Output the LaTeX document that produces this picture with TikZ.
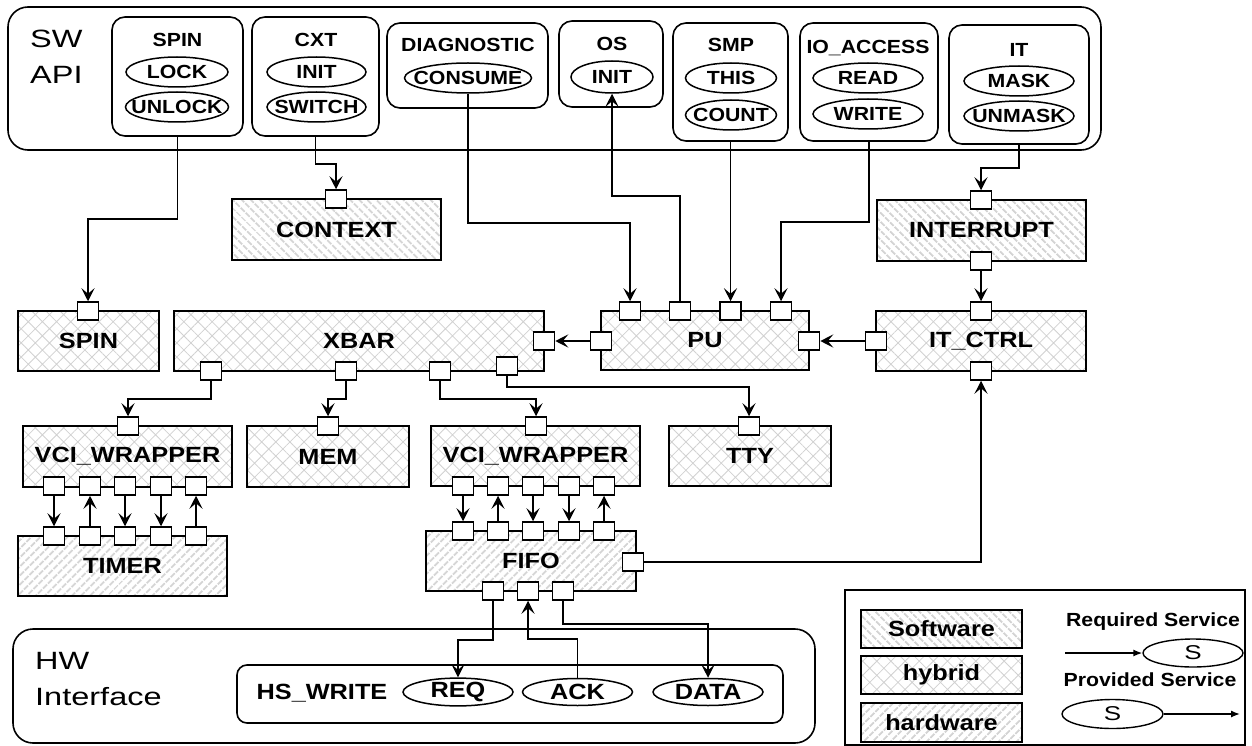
\documentclass[tikz,border=0pt]{standalone}
\usepackage{fontspec}
\setmainfont{Liberation Sans}
\newfontfamily\wfontfam[FakeStretch=1.15]{Liberation Sans}
\newfontfamily\sfontfam[FakeStretch=1.12]{Liberation Sans}
\newfontfamily\rfontfam[FakeStretch=1.3]{Liberation Sans}
\newcommand{\blkfont}{\wfontfam\bfseries\fontsize{22pt}{26pt}\selectfont}
\newcommand{\smlfont}{\sfontfam\bfseries\fontsize{19pt}{22pt}\selectfont}
\newcommand{\regfont}{\rfontfam\fontsize{25pt}{36pt}\selectfont}
\newcommand{\sregfont}{\rfontfam\fontsize{20pt}{24pt}\selectfont}
\usetikzlibrary{shapes.geometric,patterns.meta,arrows.meta}
\tikzset{
  blockbase/.style={draw, line width=1.7pt, inner sep=0pt, font=\blkfont},
  swblk/.style={blockbase, pattern={Lines[angle=-45,distance=6.5pt,line width=2.2pt]}, pattern color=black!17},
  hwblk/.style={blockbase, pattern={Lines[angle=45,distance=6.5pt,line width=2.2pt]}, pattern color=black!17},
  hyblk/.style={blockbase, pattern={Hatch[angle=45,distance=10pt,line width=0.8pt]}, pattern color=black!18},
  port/.style={draw, fill=white, line width=1.5pt, minimum width=21pt, minimum height=18pt, inner sep=0pt},
  apibox/.style={draw, rounded corners=13pt, line width=1.6pt, inner sep=0pt},
  svc/.style={ellipse, draw, line width=1.5pt, inner sep=0pt, minimum height=30pt, font=\smlfont},
  hsvc/.style={ellipse, draw, line width=1.5pt, inner sep=0pt, minimum height=27pt, minimum width=110pt, font=\blkfont},
  ttl/.style={inner sep=0pt, font=\smlfont},
  conn/.style={line width=1.5pt, -{Stealth[length=13pt,width=13pt,inset=5.5pt]}},
  legarr/.style={line width=1.4pt, -{Latex[length=9pt,width=7pt]}},
}
\begin{document}
\begin{tikzpicture}[x=1pt,y=-1pt]
\fill[white] (0,0) rectangle (1252,746);
\useasboundingbox (0,0) rectangle (1252,746);

% ---------- SW API ----------
\node[draw, rounded corners=20pt, line width=1.6pt, minimum width=1093pt, minimum height=143pt, inner sep=0pt] (swapi) at (554.5,78.5) {};
\node[font=\regfont, align=left, anchor=west, inner sep=0pt] (swapilbl) at (30,57) {SW\\API};

\node[apibox, minimum width=131pt, minimum height=119pt] (aspin) at (177.5,76.5) {};
\node[ttl] (tspin) at (177.5,40) {SPIN};
\node[svc, minimum width=102pt] (lock) at (177,72) {\makebox[0pt]{LOCK}};
\node[svc, minimum width=103pt] (unlock) at (177,107) {\makebox[0pt]{UNLOCK}};

\node[apibox, minimum width=127pt, minimum height=119pt] (acxt) at (315.5,76.5) {};
\node[ttl] (tcxt) at (316,40) {CXT};
\node[svc, minimum width=99pt] (cinit) at (316.5,72) {\makebox[0pt]{INIT}};
\node[svc, minimum width=99pt] (cswitch) at (316.5,107) {\makebox[0pt]{SWITCH}};

\node[apibox, minimum width=161pt, minimum height=85pt] (adiag) at (467.5,65.5) {};
\node[ttl] (tdiag) at (468,45) {DIAGNOSTIC};
\node[svc, minimum width=127pt] (consume) at (468,78) {\makebox[0pt]{CONSUME}};

\node[apibox, minimum width=104pt, minimum height=86pt] (aos) at (611,64) {};
\node[ttl] (tos) at (612,44) {OS};
\node[svc, minimum width=82pt, minimum height=32pt] (osinit) at (612,77) {\makebox[0pt]{INIT}};

\node[apibox, minimum width=115pt, minimum height=118pt] (asmp) at (730.5,82) {};
\node[ttl] (tsmp) at (731,45) {SMP};
\node[svc, minimum width=91pt] (sthis) at (731,78) {\makebox[0pt]{THIS}};
\node[svc, minimum width=91pt] (scount) at (731,115) {\makebox[0pt]{COUNT}};

\node[apibox, minimum width=138pt, minimum height=118pt] (aio) at (869,82) {};
\node[ttl] (tio) at (868,48) {IO\_ACCESS};
\node[svc, minimum width=110pt] (ioread) at (868,78) {\makebox[0pt]{READ}};
\node[svc, minimum width=110pt] (iowrite) at (868,114) {\makebox[0pt]{WRITE}};

\node[apibox, minimum width=140pt, minimum height=119pt] (ait) at (1019,84.5) {};
\node[ttl] (tit) at (1019,50) {IT};
\node[svc, minimum width=110pt] (itmask) at (1019,81) {\makebox[0pt]{MASK}};
\node[svc, minimum width=110pt] (itunmask) at (1019,116) {\makebox[0pt]{UNMASK}};

% ---------- Blocks ----------
\node[swblk, minimum width=209pt, minimum height=61pt] (context) at (336.5,229.5) {CONTEXT};
\node[swblk, minimum width=209pt, minimum height=61pt] (interrupt) at (981.5,230.5) {INTERRUPT};
\node[hyblk, minimum width=141pt, minimum height=60pt] (spin) at (88.5,341) {SPIN};
\node[hyblk, minimum width=370pt, minimum height=60pt] (xbar) at (359,341) {XBAR};
\node[hyblk, minimum width=208pt, minimum height=59pt] (pu) at (705,340.5) {PU};
\node[hyblk, minimum width=210pt, minimum height=60pt] (itctrl) at (981,341) {IT\_CTRL};
\node[hyblk, minimum width=209pt, minimum height=61pt] (vci1) at (127.5,456.5) {VCI\_WRAPPER};
\node[hyblk, minimum width=162pt, minimum height=61pt] (mem) at (328,456.5) {MEM};
\node[hyblk, minimum width=209pt, minimum height=60pt] (vci2) at (535.5,456) {VCI\_WRAPPER};
\node[hyblk, minimum width=162pt, minimum height=60pt] (tty) at (750,456) {TTY};
\node[hwblk, minimum width=209pt, minimum height=60pt] (timer) at (122.5,566) {TIMER};
\node[hwblk, minimum width=210pt, minimum height=60pt] (fifo) at (531,561) {FIFO};

% ---------- Ports ----------
\node[port] (spinT) at (88,311) {};
\node[port] (ctxT) at (336,199) {};
\node[port] (intT) at (981,200) {};
\node[port] (intB) at (981,261) {};
\node[port] (itcT) at (981,311) {};
\node[port] (itcB) at (981,371) {};
\node[port] (itcL) at (876,341) {};
\node[port] (puT1) at (630,311) {};
\node[port] (puT2) at (680,311) {};
\node[port] (puT3) at (730.5,311) {};
\node[port] (puT4) at (781,311) {};
\node[port] (puL) at (601,341) {};
\node[port] (puR) at (809,341) {};
\node[port] (xbR) at (544,341) {};
\node[port] (xbB1) at (211,371) {};
\node[port] (xbB2) at (346,371) {};
\node[port] (xbB3) at (440,371) {};
\node[port] (xbB4) at (507,366) {};
\node[port] (v1T) at (128,426) {};
\node[port] (memT) at (328,426) {};
\node[port] (v2T) at (536,426) {};
\node[port] (ttyT) at (749,426) {};
\foreach \i/\x in {1/54,2/90,3/125,4/161,5/196}{
  \node[port] (v1B\i) at (\x,486) {};
  \node[port] (tmT\i) at (\x,536) {};
}
\foreach \i/\x in {1/463,2/498,3/533,4/569,5/604}{
  \node[port] (v2B\i) at (\x,486) {};
  \node[port] (ffT\i) at (\x,531) {};
}
\node[port] (ffR) at (633,562) {};
\node[port] (ffB1) at (493,591) {};
\node[port] (ffB2) at (528,591) {};
\node[port] (ffB3) at (563,591) {};

% ---------- HW interface ----------
\node[draw, rounded corners=20pt, line width=1.6pt, minimum width=802pt, minimum height=114pt, inner sep=0pt] (hwbox) at (414,686) {};
\node[font=\regfont, align=left, anchor=west, inner sep=0pt] (hwlbl) at (35,679) {HW\\Interface};
\node[draw, rounded corners=10pt, line width=1.6pt, minimum width=546pt, minimum height=58pt, inner sep=0pt] (hsbox) at (510,694) {};
\node[inner sep=0pt, font=\blkfont] (hslbl) at (322,693) {HS\_WRITE};
\node[hsvc] (req) at (458,692) {\makebox[0pt]{REQ}};
\node[hsvc] (ack) at (577.5,692) {\makebox[0pt]{ACK}};
\node[hsvc] (data) at (708,692) {\makebox[0pt]{DATA}};

% ---------- Connectors ----------
\draw[conn] (aspin.south) -- ++(0,82) -| (spinT.north);
\draw[conn] (acxt.south) -- ++(0,27) -| (ctxT.north);
\draw[conn] (consume.south) -- ++(0,129) -| (puT1.north);
\draw[conn] (puT2.north) -- ++(0,-105) -| (osinit.south);
\draw[conn] (asmp.south) -- (puT3.north);
\draw[conn] (aio.south) -- ++(0,80) -| (puT4.north);
\draw[conn] (ait.south) -- ++(0,23) -| (intT.north);
\draw[conn] (intB.south) -- (itcT.north);
\draw[conn] (itcL.west) -- (puR.east);
\draw[conn] (puL.west) -- (xbR.east);
\draw[conn] (xbB1.south) -- ++(0,18) -| (v1T.north);
\draw[conn] (xbB2.south) -- ++(0,18) -| (memT.north);
\draw[conn] (xbB3.south) -- ++(0,18) -| (v2T.north);
\draw[conn] (xbB4.south) -- ++(0,11) -| (ttyT.north);
\foreach \i in {1,3,4}{
  \draw[conn] (v1B\i.south) -- (tmT\i.north);
  \draw[conn] (v2B\i.south) -- (ffT\i.north);
}
\foreach \i in {2,5}{
  \draw[conn] (tmT\i.north) -- (v1B\i.south);
  \draw[conn] (ffT\i.north) -- (v2B\i.south);
}
\draw[conn] (ffR.east) -| (itcB.south);
\draw[conn] (ffB1.south) -- ++(0,39) -| (req.north);
\draw[conn] (ack.north) -- ++(0,-39) -| (ffB2.south);
\draw[conn] (ffB3.south) -- ++(0,23) -| (data.north);

% ---------- Legend ----------
\node[draw, line width=1.6pt, minimum width=400pt, minimum height=155pt, inner sep=0pt] (legend) at (1045,667.5) {};
\node[swblk, minimum width=161pt, minimum height=38pt] (lsw) at (941.5,629) {Software};
\node[hyblk, minimum width=161pt, minimum height=38pt] (lhy) at (941.5,675) {hybrid};
\node[hwblk, minimum width=161pt, minimum height=39pt] (lhw) at (941.5,722.5) {hardware};
\node[ttl] (lreq) at (1153,622) {Required Service};
\node[ellipse, draw, line width=1.4pt, inner sep=0pt, minimum width=100pt, minimum height=28pt, font=\sregfont] (lreqS) at (1193,653) {\makebox[0pt]{S}};
\coordinate (lreqA) at (1065,653);
\draw[legarr] (lreqA) -- (lreqS.west);
\node[ttl] (lprov) at (1150,680) {Provided Service};
\node[ellipse, draw, line width=1.4pt, inner sep=0pt, minimum width=101pt, minimum height=29pt, font=\sregfont] (lprovS) at (1112.5,714) {\makebox[0pt]{S}};
\coordinate (lprovB) at (1240,714);
\draw[legarr] (lprovS.east) -- (lprovB);
\end{tikzpicture}
\end{document}
